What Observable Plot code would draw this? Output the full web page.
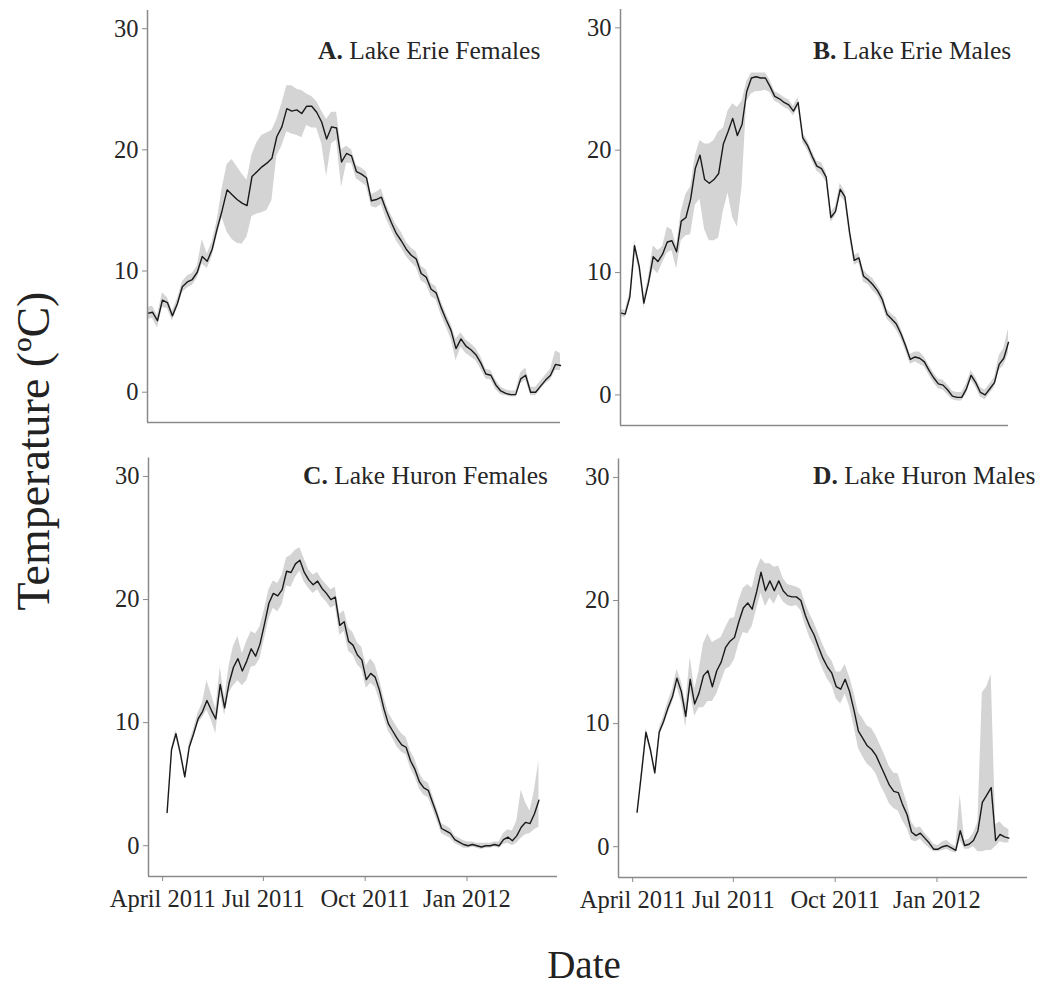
<!DOCTYPE html>
<html>
<head>
<meta charset="utf-8">
<script src="https://cdn.jsdelivr.net/npm/d3@7"></script>
<script src="https://cdn.jsdelivr.net/npm/@observablehq/plot@0.6"></script>
<style>
  body { margin: 0; background: #fff; }
  #fig {
    position: relative; width: 1040px; height: 988px; background: #fff; overflow: hidden;
    font-family: "Liberation Serif", "Times New Roman", serif; color: #222;
  }
  .panel { position: absolute; }
  .panel svg { overflow: visible; }
  #ylab {
    position: absolute; left: 33px; top: 451px; white-space: nowrap; font-size: 46px;
    transform: translate(-50%, -50%) rotate(-90deg);
  }
  #xlab {
    position: absolute; left: 584px; top: 964px; font-size: 39px;
    transform: translate(-50%, -50%);
  }
</style>
</head>
<body>
<div id="fig">
  <div id="ylab">Temperature (ºC)</div>
  <div id="xlab">Date</div>
</div>
<script>
// Daily mean body temperature of tagged fish (line) with the spread across individuals (ribbon).
// Values are sampled every 4 days from the first date of each lake's record.
const stepDays = 4;
const erieStart = "2011-04-05";
const huronStart = "2011-04-05";

const erieFemaleMean = [6.5,6.6,5.9,7.6,7.4,6.3,7.3,8.7,9.1,9.3,
  9.9,11.2,10.8,11.8,13.5,15.0,16.7,16.3,15.9,15.6,
  15.4,17.8,18.2,18.6,18.9,19.3,21.1,21.9,23.4,23.2,
  23.3,23.0,23.6,23.6,23.1,22.3,20.9,21.9,21.8,19.0,
  19.7,19.5,18.2,18.0,17.7,15.8,15.9,16.1,15.0,14.0,
  13.1,12.5,11.8,11.3,11.0,9.8,9.5,8.5,8.2,7.0,
  6.0,5.1,3.6,4.4,3.8,3.5,3.1,2.4,1.5,1.4,
  0.6,0.1,-0.1,-0.2,-0.2,1.1,1.4,0.0,0.0,0.5,
  1.0,1.4,2.3,2.2];
const erieFemaleLo = [6.0,6.1,5.3,7.0,6.9,5.9,6.9,8.2,8.6,8.8,
  9.4,10.6,10.2,11.2,12.9,14.4,13.2,12.6,12.3,12.2,
  12.8,14.5,14.7,14.8,15.0,15.8,19.5,20.3,21.5,21.3,
  21.2,21.0,22.0,21.8,21.8,20.5,17.8,20.5,20.8,16.9,
  18.9,18.9,17.6,17.3,17.0,15.3,15.2,15.5,14.3,13.4,
  12.5,11.9,11.2,10.7,10.3,9.2,8.9,7.9,7.6,6.4,
  5.4,4.4,2.6,3.7,3.2,2.9,2.6,1.9,1.1,1.0,
  0.2,-0.2,-0.3,-0.4,-0.4,0.7,1.0,-0.3,-0.3,0.2,
  0.7,1.0,1.8,1.8];
const erieFemaleHi = [7.0,7.1,6.3,8.2,7.8,6.7,7.7,9.1,9.6,9.8,
  10.4,12.6,11.4,12.4,14.2,16.8,18.8,19.2,18.6,18.0,
  17.5,19.6,20.6,21.2,21.4,21.6,22.5,23.8,25.3,25.3,
  25.0,24.9,24.6,24.4,24.0,23.2,22.5,23.1,23.1,20.0,
  20.3,20.0,18.7,18.5,18.2,16.3,16.5,16.8,15.5,14.6,
  13.8,13.2,12.4,11.9,11.6,10.4,10.1,9.0,8.7,7.5,
  6.5,5.6,4.4,4.9,4.3,4.0,3.6,2.9,1.9,1.8,
  1.0,0.4,0.2,0.1,0.1,1.6,2.0,0.4,0.4,0.9,
  1.4,1.9,3.4,3.2];

const erieMaleMean = [6.7,6.6,8.0,12.2,10.5,7.5,9.2,11.3,10.9,11.5,
  12.5,12.6,11.7,14.2,14.5,16.0,18.5,19.6,17.6,17.3,
  17.6,18.1,20.5,21.5,22.6,21.2,22.1,24.8,25.9,26.0,
  25.9,25.9,25.2,24.4,24.2,23.9,23.7,23.2,23.9,21.0,
  20.4,19.5,18.7,18.5,17.8,14.5,15.0,16.8,16.2,13.3,
  11.0,11.2,9.7,9.4,9.0,8.5,7.8,6.6,6.2,5.8,
  5.0,4.0,2.9,3.1,3.0,2.7,2.0,1.4,0.9,0.8,
  0.4,-0.1,-0.2,-0.2,0.5,1.6,1.0,0.2,0.0,0.5,
  1.0,2.5,3.0,4.3];
const erieMaleLo = [6.4,6.3,7.6,11.8,10.1,7.1,8.8,10.3,9.9,10.8,
  11.6,11.8,10.3,12.6,13.0,13.1,15.5,16.0,13.5,12.6,
  12.6,12.8,15.0,16.5,14.5,13.7,17.0,24.0,24.6,24.8,
  24.8,24.9,24.7,24.0,23.8,23.5,23.3,22.8,23.5,20.6,
  20.0,19.1,18.3,18.0,17.4,14.1,14.6,16.3,15.8,12.9,
  10.6,10.8,9.2,9.0,8.5,8.1,7.3,6.2,5.8,5.3,
  4.6,3.6,2.5,2.7,2.5,2.3,1.6,1.0,0.5,0.4,
  0.0,-0.4,-0.5,-0.5,0.1,1.2,0.6,-0.2,-0.4,0.1,
  0.6,2.0,2.4,3.4];
const erieMaleHi = [7.0,6.9,8.4,12.6,10.9,7.9,9.6,12.2,11.8,12.1,
  13.7,13.5,12.2,15.0,16.4,17.0,19.5,20.8,20.5,20.5,
  20.8,21.5,21.8,23.2,23.8,23.5,24.0,25.6,26.3,26.3,
  26.3,26.3,25.7,24.8,24.6,24.3,24.1,23.6,24.3,21.4,
  20.8,19.9,19.1,19.0,18.2,14.9,15.4,17.3,16.6,13.7,
  11.4,11.6,10.2,9.8,9.5,8.9,8.3,7.0,6.6,6.3,
  5.4,4.4,3.3,3.5,3.5,3.1,2.4,1.8,1.3,1.2,
  0.8,0.3,0.2,0.2,0.9,2.0,1.4,0.6,0.4,0.9,
  1.4,3.2,3.8,5.4];

const huronFemaleMean = [2.7,7.8,9.1,7.5,5.6,8.0,9.1,10.3,10.9,11.8,
  11.0,10.3,13.1,11.2,13.2,14.5,15.2,14.2,15.0,16.0,
  15.4,16.4,18.0,19.7,20.5,20.3,20.8,22.3,22.2,22.9,
  23.2,22.2,21.6,21.2,21.5,20.9,20.5,20.0,20.2,17.9,
  18.2,16.6,16.3,15.5,15.1,13.5,14.0,13.7,12.6,11.1,
  9.9,9.3,8.7,8.2,8.0,6.9,6.2,5.2,4.7,4.5,
  3.5,2.5,1.4,1.2,1.0,0.5,0.3,0.1,0.0,0.1,
  0.0,-0.1,0.0,0.0,0.1,0.0,0.5,0.7,0.4,0.8,
  1.5,1.9,1.8,2.6,3.7];
const huronFemaleLo = [2.7,7.7,8.8,7.3,5.4,7.8,8.8,9.9,10.4,11.0,
  10.2,9.1,12.3,10.6,12.4,13.0,13.4,13.0,13.4,14.5,
  14.6,15.2,16.8,18.4,19.3,19.0,19.6,21.1,21.0,21.8,
  22.3,21.4,20.9,20.5,20.8,20.2,19.8,19.3,19.5,17.1,
  17.4,15.8,15.5,14.7,14.3,12.8,13.2,12.9,11.8,10.4,
  9.3,8.7,8.0,7.6,7.4,6.3,5.6,4.6,4.1,3.9,
  3.0,2.0,1.0,0.8,0.6,0.2,0.0,-0.2,-0.2,-0.1,
  -0.2,-0.3,-0.2,-0.2,-0.1,-0.2,0.1,0.2,0.0,0.2,
  0.6,0.9,1.0,1.3,1.5];
const huronFemaleHi = [2.7,7.9,9.4,7.6,5.8,8.3,9.5,10.8,11.6,13.4,
  12.3,11.1,14.5,12.0,14.6,16.2,17.0,15.6,16.6,17.4,
  17.2,17.8,19.2,20.8,21.5,21.3,22.0,23.4,23.6,24.0,
  24.2,23.3,22.4,22.0,22.2,21.6,21.2,20.8,21.0,18.8,
  19.1,17.7,17.3,16.5,16.1,14.6,15.2,14.7,13.5,12.0,
  10.8,10.2,9.6,9.1,8.8,7.7,7.0,5.9,5.3,5.1,
  4.1,3.0,1.8,1.6,1.4,0.8,0.6,0.4,0.3,0.3,
  0.2,0.2,0.2,0.2,0.3,0.3,1.0,1.3,1.2,2.0,
  4.5,3.5,2.8,4.5,6.9];

const huronMaleMean = [2.8,6.0,9.3,7.9,6.0,9.3,10.2,11.3,12.2,13.7,
  12.6,10.6,13.6,11.6,12.5,13.9,14.3,13.0,14.3,15.0,
  16.2,16.7,17.0,18.3,19.4,19.8,19.3,20.7,22.3,20.8,
  21.6,20.8,21.6,20.8,20.4,20.3,20.3,20.0,18.8,17.9,
  17.2,16.2,15.3,14.6,14.1,13.0,12.8,13.6,12.6,11.1,
  9.4,8.8,8.2,7.9,7.4,6.6,5.8,5.0,4.5,4.4,
  3.4,2.6,1.2,0.9,1.1,0.7,0.3,-0.2,-0.2,0.0,
  0.1,-0.1,-0.3,1.3,0.1,0.2,0.5,1.3,3.6,4.2,
  4.8,0.5,1.0,0.8,0.7];
const huronMaleLo = [2.7,5.8,9.0,7.7,5.8,9.0,9.8,10.8,11.7,13.0,
  11.8,9.7,12.6,10.6,11.3,11.3,11.8,11.8,12.4,13.4,
  14.4,14.6,15.2,16.5,17.4,17.3,17.9,19.3,20.6,19.5,
  20.2,19.7,20.5,19.9,19.6,19.5,19.6,19.2,18.0,17.0,
  16.3,15.3,14.4,13.6,13.1,12.0,11.6,12.4,11.4,9.8,
  8.0,7.3,6.7,6.4,5.9,5.0,4.3,3.5,3.1,2.9,
  2.1,1.5,0.5,0.4,0.6,0.2,-0.1,-0.4,-0.4,-0.3,
  -0.2,-0.4,-0.5,0.5,-0.2,-0.2,0.0,-0.4,-0.4,-0.3,
  -0.3,0.0,0.4,0.3,0.3];
const huronMaleHi = [2.9,6.2,9.6,8.2,6.2,9.6,10.6,11.8,12.8,14.4,
  13.4,11.6,15.4,12.8,14.3,16.5,17.3,16.6,16.8,17.0,
  17.8,18.5,18.6,20.0,21.0,21.3,21.0,22.5,23.4,23.0,
  23.0,22.7,22.8,21.8,21.3,21.2,21.1,20.9,19.8,18.9,
  18.2,17.3,16.4,15.6,15.1,14.2,14.2,14.8,13.8,12.5,
  10.9,10.4,9.8,9.6,9.0,8.2,7.4,6.5,6.0,5.9,
  4.7,3.6,2.0,1.5,1.6,1.1,0.7,0.2,0.1,0.4,
  0.5,0.2,0.0,4.2,0.5,0.6,1.1,2.0,12.5,13.0,
  14.0,1.8,2.0,1.6,1.4];

// Axis ticks
const tempTicks = [0, 10, 20, 30];
const dateTicks = ["2011-04-01", "2011-07-01", "2011-10-01", "2012-01-01"];
const dateTickLabels = ["April 2011", "Jul 2011", "Oct 2011", "Jan 2012"];

// ---- drawing ----
const yDomain = [-2.5, 31.5];
const axisGray = "#8a8a8a";
const textColor = "#262626";
const serif = "'Liberation Serif', 'Times New Roman', serif";
const tickFontSize = 24.5;
const DAY = 864e5;

function series(start, mean, lo, hi) {
  const t0 = Date.parse(start + "T00:00:00Z");
  return mean.map((v, i) => ({date: new Date(t0 + i * stepDays * DAY), mean: v, lo: lo[i], hi: hi[i]}));
}

const tickDates = dateTicks.map(s => new Date(s + "T00:00:00Z"));
const tickLabelOf = new Map(tickDates.map((d, i) => [+d, dateTickLabels[i]]));

const panels = [
  {letter: "A.", name: "Lake Erie Females", data: series(erieStart, erieFemaleMean, erieFemaleLo, erieFemaleHi),
   left: 80, top: 0, width: 500, height: 440, mt: 10, mb: 18, ml: 67, mr: 20, pad: 0, xAxis: false, titleX: 318, titleY: 59},
  {letter: "B.", name: "Lake Erie Males", data: series(erieStart, erieMaleMean, erieMaleLo, erieMaleHi),
   left: 550, top: 0, width: 490, height: 440, mt: 9, mb: 15, ml: 70, mr: 32, pad: 0, xAxis: false, titleX: 813, titleY: 59},
  {letter: "C.", name: "Lake Huron Females", data: series(huronStart, huronFemaleMean, huronFemaleLo, huronFemaleHi),
   left: 80, top: 440, width: 500, height: 500, mt: 17.5, mb: 64, ml: 68, mr: 23, pad: 0.05, xAxis: true, titleX: 303, titleY: 484},
  {letter: "D.", name: "Lake Huron Males", data: series(huronStart, huronMaleMean, huronMaleLo, huronMaleHi),
   left: 550, top: 440, width: 490, height: 500, mt: 18.5, mb: 63, ml: 68, mr: 13, pad: 0.05, xAxis: true, titleX: 813, titleY: 484}
];

const fig = document.getElementById("fig");

for (const p of panels) {
  const [x0, x1] = d3.extent(p.data, d => d.date);
  const span = x1 - x0;
  const xDomain = [new Date(+x0 - p.pad * span), new Date(+x1 + p.pad * span)];

  const marks = [
    Plot.areaY(p.data, {x: "date", y1: "lo", y2: "hi", fill: "#d4d4d4"}),
    Plot.lineY(p.data, {x: "date", y: "mean", stroke: "#1a1a1a", strokeWidth: 1.4}),
    Plot.ruleX([xDomain[0]], {stroke: axisGray, strokeWidth: 1.5}),
    Plot.ruleY([yDomain[0]], {stroke: axisGray, strokeWidth: 1.5}),
    Plot.axisY(tempTicks, {tickSize: 5, tickPadding: 4, stroke: axisGray, fill: textColor, fontSize: tickFontSize, tickFormat: d => String(d)})
  ];
  if (p.xAxis) {
    marks.push(Plot.axisX(tickDates, {tickSize: 5, tickPadding: 8, stroke: axisGray, fill: textColor, fontSize: tickFontSize,
      tickFormat: d => tickLabelOf.get(+d)}));
  }

  const svg = Plot.plot({
    width: p.width, height: p.height,
    marginTop: p.mt, marginBottom: p.mb, marginLeft: p.ml, marginRight: p.mr,
    x: {type: "utc", domain: xDomain, axis: null},
    y: {domain: yDomain, axis: null},
    style: {fontFamily: serif, fontSize: tickFontSize + "px", background: "transparent", overflow: "visible"},
    marks
  });

  // Panel heading: bold letter followed by the group name
  const title = d3.select(svg).append("text")
    .attr("x", p.titleX - p.left).attr("y", p.titleY - p.top)
    .attr("text-anchor", "start")
    .attr("font-size", 25.5).attr("fill", textColor).attr("font-family", serif)
    .style("white-space", "pre");
  title.append("tspan").attr("font-weight", "bold").text(p.letter);
  title.append("tspan").text(" " + p.name);

  const holder = document.createElement("div");
  holder.className = "panel";
  holder.style.left = p.left + "px";
  holder.style.top = p.top + "px";
  holder.appendChild(svg);
  fig.appendChild(holder);
}
</script>
</body>
</html>
